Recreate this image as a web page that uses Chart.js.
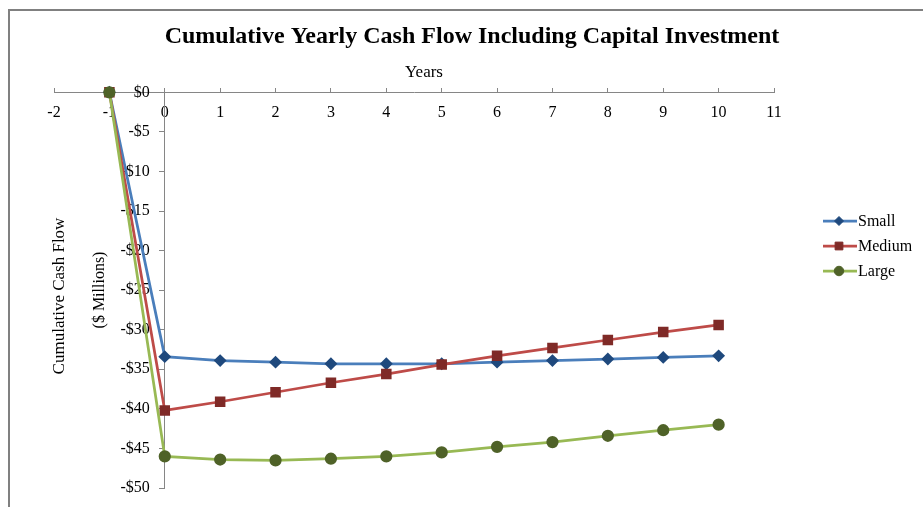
<!DOCTYPE html>
<html>
<head>
<meta charset="utf-8">
<script src="https://cdn.jsdelivr.net/npm/chart.js"></script>
<style>
  body { margin: 0; background: #fff; }
  #wrap { width: 923px; height: 507px; position: relative; }
</style>
</head>
<body>
<div id="wrap"><canvas id="myChart"></canvas></div>
<script>
// years from -1 (investment) to 10
let years = [-1, 0, 1, 2, 3, 4, 5, 6, 7, 8, 9, 10];

// cumulative cash flow, $ millions
let small  = [0, -33.4, -33.9, -34.1, -34.3, -34.3, -34.3, -34.1, -33.9, -33.7, -33.5, -33.3];
let medium = [0, -40.2, -39.1, -37.9, -36.7, -35.6, -34.4, -33.3, -32.3, -31.3, -30.3, -29.4];
let large  = [0, -46.0, -46.4, -46.5, -46.3, -46.0, -45.5, -44.8, -44.2, -43.4, -42.7, -42.0];

let seriesNames = ['Small', 'Medium', 'Large'];

let serif = '"Liberation Serif", "Times New Roman", serif';
let axisGrey = '#868686';

function points(values) {
  let out = [];
  years.forEach((yr, i) => {
    out.push({x: yr, y: values[i]});
  });
  return out;
}

function money(v) {
  if (v === 0) return '$0';
  return (v < 0 ? '-$' : '$') + Math.abs(v);
}

// frame, axis titles and the legend (line + marker) drawn on the canvas
const extras = {
  id: 'extras',
  beforeDraw(chart) {
    let ctx = chart.ctx;
    ctx.save();
    ctx.strokeStyle = '#808080';
    ctx.lineWidth = 2;
    ctx.strokeRect(9, 10, 1000, 1000);
    ctx.restore();
  },
  afterDraw(chart) {
    let ctx = chart.ctx;
    ctx.save();
    ctx.fillStyle = '#000';
    ctx.textAlign = 'center';
    ctx.textBaseline = 'middle';
    ctx.font = '17px ' + serif;
    ctx.fillText('Years', 424, 73);

    ctx.save();
    ctx.font = '17px ' + serif;
    ctx.translate(60, 296);
    ctx.rotate(-Math.PI / 2);
    ctx.fillText('Cumulative Cash Flow', 0, 0);
    ctx.restore();

    ctx.save();
    ctx.font = '16px ' + serif;
    ctx.translate(100, 290);
    ctx.rotate(-Math.PI / 2);
    ctx.fillText('($ Millions)', 0, 0);
    ctx.restore();

    // legend
    chart.data.datasets.forEach((ds, i) => {
      let y = 221 + i * 25;
      ctx.strokeStyle = ds.borderColor;
      ctx.lineWidth = ds.borderWidth;
      ctx.beginPath();
      ctx.moveTo(823, y);
      ctx.lineTo(857, y);
      ctx.stroke();
      ctx.fillStyle = ds.pointBackgroundColor;
      ctx.strokeStyle = ds.pointBorderColor;
      ctx.lineWidth = 1;
      Chart.helpers.drawPoint(ctx, {pointStyle: ds.pointStyle, radius: ds.pointRadius, borderWidth: 1, rotation: 0}, 839, y);
      ctx.fillStyle = '#000';
      ctx.textAlign = 'left';
      ctx.font = '16px ' + serif;
      ctx.fillText(ds.label, 858, y + 1);
    });
    ctx.restore();
  }
};

var ctx = document.getElementById('myChart').getContext('2d');

var myChart = new Chart(ctx, {
  type: 'line',
  data: {
    datasets: [{
      label: seriesNames[0],
      data: points(small),
      borderColor: '#4A7EBB',
      borderWidth: 2.75,
      pointStyle: 'rectRot',
      pointRadius: 4.5,
      pointBackgroundColor: '#1F497D',
      pointBorderColor: '#1F497D',
      order: 3,
      clip: false
    }, {
      label: seriesNames[1],
      data: points(medium),
      borderColor: '#BE4B48',
      borderWidth: 2.75,
      pointStyle: 'rect',
      pointRadius: 5.5,
      pointBackgroundColor: '#7F2A27',
      pointBorderColor: '#7F2A27',
      order: 2,
      clip: false
    }, {
      label: seriesNames[2],
      data: points(large),
      borderColor: '#98B954',
      borderWidth: 2.75,
      pointStyle: 'circle',
      pointRadius: 4.75,
      pointBackgroundColor: '#4F6228',
      pointBorderColor: '#4F6228',
      order: 1,
      clip: false
    }]
  },
  options: {
    responsive: true,
    maintainAspectRatio: false,
    animation: false,
    events: [],
    // most of the right side room comes from the empty 'legendRoom' axis,
    // so the title (full width) stays centred on the frame
    layout: {
      padding: {left: 54, right: 33, top: 0, bottom: 19}
    },
    plugins: {
      legend: {display: false},
      tooltip: {enabled: false},
      title: {
        display: true,
        text: 'Cumulative Yearly Cash Flow Including Capital Investment',
        color: '#000',
        font: {family: serif, size: 24, weight: 'bold'},
        padding: {top: 22, bottom: 41.5}
      }
    },
    scales: {
      x: {
        type: 'linear',
        position: {y: 0},
        min: -2,
        max: 11,
        afterFit: (s) => { s.height = 0; },
        ticks: {stepSize: 1, color: '#000', padding: 16, font: {family: serif, size: 16}},
        grid: {drawOnChartArea: false, drawTicks: true, tickLength: -5, color: axisGrey},
        border: {display: true, color: axisGrey, width: 1}
      },
      // the axis line and tick marks, crossing at year 0
      y: {
        type: 'linear',
        position: {x: 0},
        min: -50,
        max: 0,
        afterFit: (s) => { s.width = 0; },
        ticks: {stepSize: 5, display: false},
        grid: {drawOnChartArea: false, drawTicks: true, tickLength: 5, color: axisGrey},
        border: {display: true, color: axisGrey, width: 1}
      },
      // tick labels, sitting a little to the left of the axis line
      yLabels: {
        type: 'linear',
        position: {x: -0.27},
        min: -50,
        max: 0,
        afterFit: (s) => { s.width = 0; },
        ticks: {stepSize: 5, color: '#000', font: {family: serif, size: 16}, callback: (v) => money(v)},
        grid: {display: false},
        border: {display: false}
      },
      legendRoom: {
        type: 'linear',
        axis: 'y',
        position: 'right',
        min: -50,
        max: 0,
        afterFit: (s) => { s.width = 116; },
        ticks: {display: false},
        grid: {display: false},
        border: {display: false}
      }
    }
  },
  plugins: [extras]
});
</script>
</body>
</html>
